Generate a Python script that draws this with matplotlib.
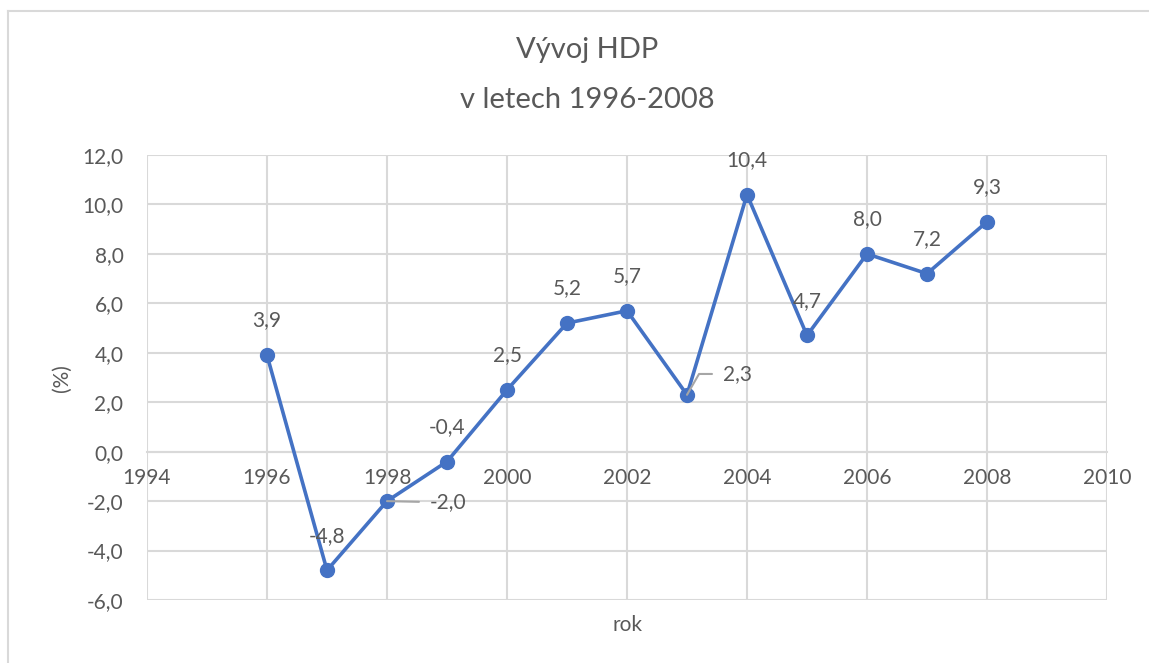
import matplotlib.pyplot as plt
from matplotlib.lines import Line2D

years = [1996, 1997, 1998, 1999, 2000, 2001, 2002, 2003, 2004, 2005, 2006, 2007, 2008]
hdp = [3.9, -4.8, -2.0, -0.4, 2.5, 5.2, 5.7, 2.3, 10.4, 4.7, 8.0, 7.2, 9.3]
x_ticks = [1994, 1996, 1998, 2000, 2002, 2004, 2006, 2008, 2010]
y_ticks = [-6, -4, -2, 0, 2, 4, 6, 8, 10, 12]

plt.rcParams['font.family'] = ['Lato', 'DejaVu Sans']
grey = '#595959'
grid = '#d9d9d9'
blue = '#4472c4'

fig = plt.figure(figsize=(11.49, 6.63), dpi=100)
ax = fig.add_axes([147 / 1149, 63 / 663, 960 / 1149, 445 / 663])

ax.plot(years, hdp, color=blue, lw=2.6, marker='o', ms=10, zorder=3)

ax.set_xlim(1994, 2010)
ax.set_ylim(-6, 12)
ax.set_xticks(x_ticks)
ax.set_yticks(y_ticks)
ax.set_yticklabels([f'{v:.1f}'.replace('.', ',') for v in y_ticks])
ax.grid(True, color=grid, lw=1.5)
ax.set_axisbelow(True)
for s in ['top', 'right', 'left']:
    ax.spines[s].set_visible(False)
ax.spines['bottom'].set_position(('data', 0))
ax.spines['bottom'].set_color(grid)
ax.spines['bottom'].set_linewidth(1.5)
ax.tick_params(axis='both', length=0, labelsize=15, labelcolor=grey)
ax.tick_params(axis='y', pad=17)
ax.tick_params(axis='x', pad=12)

# data labels
for x, y in zip(years, hdp):
    lab = f'{y:.1f}'.replace('.', ',')
    if x == 1998:
        ax.annotate(lab, (x, y), xytext=(31, -1), textcoords='offset points',
                    ha='left', va='center', fontsize=15, color=grey,
                    arrowprops=dict(arrowstyle='-', color='#a6a6a6', lw=1.5,
                                    shrinkA=6, shrinkB=0))
    elif x == 2003:
        ax.annotate(lab, (x, y), xytext=(26, 15), textcoords='offset points',
                    ha='left', va='center', fontsize=15, color=grey,
                    arrowprops=dict(arrowstyle='-', color='#a6a6a6', lw=1.5,
                                    shrinkA=6, shrinkB=0,
                                    connectionstyle='angle,angleA=0,angleB=60,rad=0'))
    else:
        ax.annotate(lab, (x, y), xytext=(0, 25), textcoords='offset points',
                    ha='center', va='center', fontsize=15, color=grey)

fig.text(587 / 1149, 1 - 50 / 663, 'Vývoj HDP', ha='center', va='center',
         fontsize=21, color=grey)
fig.text(587 / 1149, 1 - 100 / 663, 'v letech 1996-2008', ha='center', va='center',
         fontsize=21, color=grey)
fig.text(62 / 1149, 1 - 378 / 663, '(%)', ha='center', va='center', rotation=90,
         fontsize=15, color=grey)
fig.text(627 / 1149, 1 - 625 / 663, 'rok', ha='center', va='center',
         fontsize=15, color=grey)

# chart border (cut at right and bottom)
fig.add_artist(Line2D([8 / 1149, 8 / 1149], [0, 1 - 11 / 663], color='#d9d9d9', lw=1.5))
fig.add_artist(Line2D([8 / 1149, 1], [1 - 11 / 663, 1 - 11 / 663], color='#d9d9d9', lw=1.5))

fig.savefig('out.png', dpi=100)
